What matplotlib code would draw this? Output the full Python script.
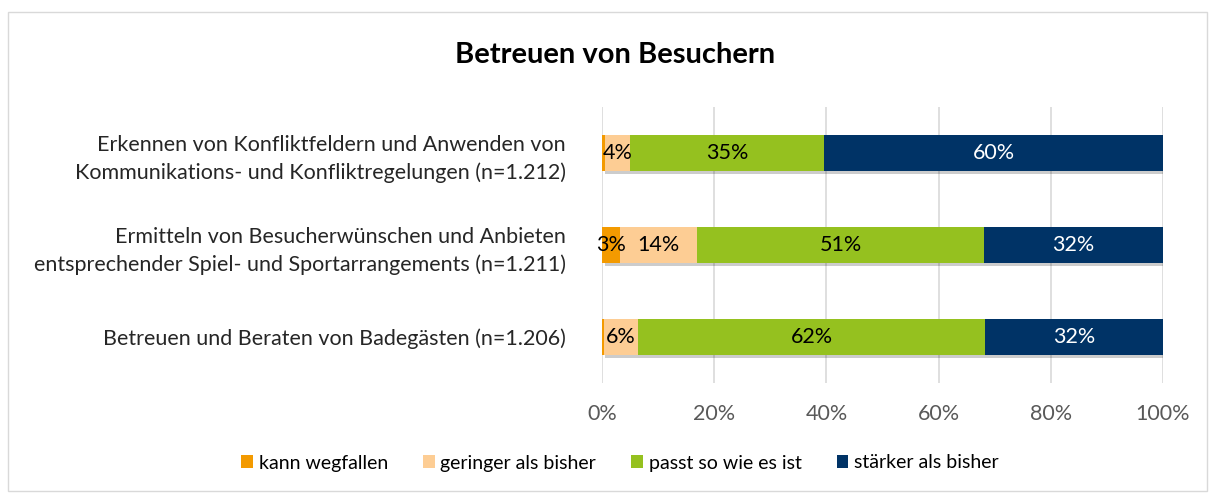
import matplotlib
matplotlib.use("Agg")
import matplotlib.pyplot as plt
import matplotlib.patheffects as pe
from matplotlib.patches import Patch
import numpy as np

categories = [
    "Erkennen von Konfliktfeldern und Anwenden von\nKommunikations- und Konfliktregelungen (n=1.212)",
    "Ermitteln von Besucherwünschen und Anbieten\nentsprechender Spiel- und Sportarrangements (n=1.211)",
    "Betreuen und Beraten von Badegästen (n=1.206)",
]
series_names = ["kann wegfallen", "geringer als bisher", "passt so wie es ist", "stärker als bisher"]
kann_wegfallen = [0.6, 3.2, 0.3]
geringer = [4.4, 13.7, 6.2]
passt = [34.6, 51.2, 61.8]
staerker = [60.4, 31.9, 31.7]
series_values = [kann_wegfallen, geringer, passt, staerker]
colors = ["#F39A00", "#FDCD94", "#95C11F", "#003366"]
text_colors = ["#000000", "#000000", "#000000", "#FFFFFF"]
xticks = [0, 20, 40, 60, 80, 100]
xticklabels = ["0%", "20%", "40%", "60%", "80%", "100%"]

FONT = "Lato"
plt.rcParams["font.family"] = [FONT, "DejaVu Sans"]

fig = plt.figure(figsize=(12.15, 4.93), dpi=100)
fig.patches.append(plt.Rectangle((8 / 1215, 0.005), 1 - 16 / 1215, 1 - 12 / 493 - 0.005,
                                 transform=fig.transFigure, fill=False,
                                 edgecolor="#D9D9D9", linewidth=1))

ax = fig.add_axes([602 / 1215, 1 - 383 / 493, (1163 - 602) / 1215, 276 / 493])
y = np.arange(len(categories))
left = np.zeros(len(categories))
shadow = [pe.SimplePatchShadow(offset=(2, -2), shadow_rgbFace="#000000", alpha=0.2), pe.Normal()]
for name, vals, c, tc in zip(series_names, series_values, colors, text_colors):
    vals = np.array(vals)
    bars = ax.barh(y, vals, left=left, height=0.4, color=c, label=name, zorder=3)
    for b in bars:
        b.set_path_effects(shadow)
    for yi, v, l in zip(y, vals, left):
        if v >= 1:
            ax.text(l + v / 2, yi, f"{round(v)}%", ha="center", va="center",
                    color=tc, fontsize=15.5, zorder=5)
    left = left + vals

ax.set_xlim(0, 100)
ax.set_ylim(len(categories) - 0.5, -0.5)
ax.set_xticks(xticks)
ax.set_xticklabels(xticklabels, color="#595959", fontsize=15.5)
ax.set_yticks(y)
ax.set_yticklabels(categories, fontsize=15.5, color="#262626", ha="right",
                   multialignment="right", linespacing=1.45)
ax.tick_params(axis="y", length=0, pad=26)
ax.tick_params(axis="x", length=0, pad=15)
ax.grid(axis="x", color="#D9D9D9", linewidth=1.2, zorder=0)
for s in ax.spines.values():
    s.set_visible(False)

fig.text(615 / 1215, 1 - 55 / 493, "Betreuen von Besuchern", ha="center", va="center",
         fontsize=21, fontweight="bold", color="#000000")

handles = [Patch(facecolor=c, edgecolor="none") for c in colors]
fig.legend(handles=handles, labels=series_names, loc="center", ncol=4,
           bbox_to_anchor=(620 / 1215, 1 - 463 / 493), frameon=False, fontsize=14,
           handlelength=0.6, handleheight=0.6, handletextpad=0.3, columnspacing=1.8)

fig.savefig("out.png", dpi=100)
